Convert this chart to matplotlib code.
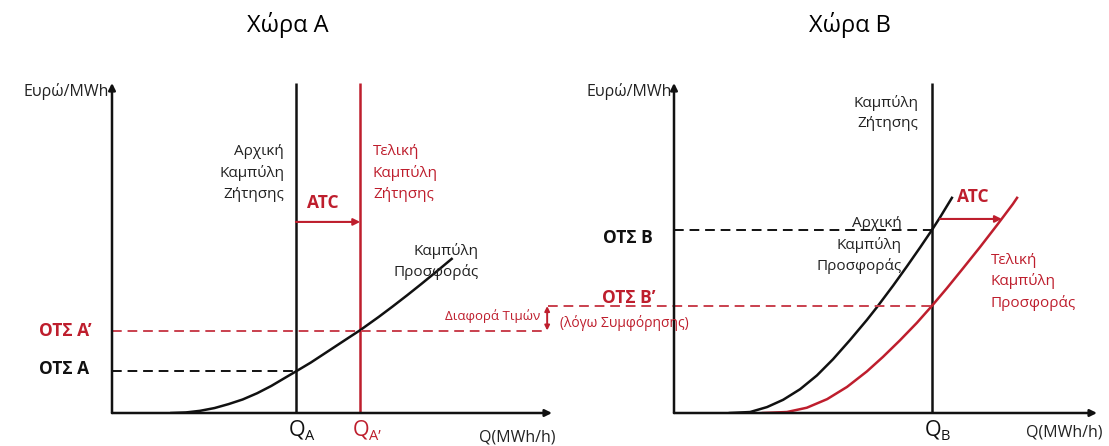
import matplotlib
matplotlib.use("Agg")
import matplotlib.pyplot as plt

plt.rcParams['font.family'] = ['Open Sans', 'DejaVu Sans']

# -----------------------------
# Data (schematic units, 0..100 on both axes)
# -----------------------------
# Country A
QA = 41.8
QA_PRIME = 56.4
OTS_A = 12.8
OTS_A_PRIME = 25.0
supply_a_x = [13.5, 16.8, 20.0, 23.3, 26.5, 29.7, 33.0, 36.2, 39.5, 41.8,
              45.2, 49.2, 53.3, 56.4, 60.6, 63.8, 67.1, 70.3, 73.6, 77.2]
supply_a_y = [0.0, 0.17, 0.66, 1.5, 2.7, 4.1, 6.0, 8.2, 10.8, 12.6,
              15.3, 18.8, 22.4, 25.1, 29.1, 32.3, 35.7, 39.1, 42.7, 46.7]
ATC_Y_A = 57.9

# Country B
QB = 61.0
OTS_B = 55.5
OTS_B_PRIME = 32.4
supply_b_x = [13.2, 18.0, 22.0, 25.8, 29.8, 33.8, 37.6, 41.6, 45.6, 48.0,
              51.8, 55.1, 58.2, 61.0, 62.9, 65.7]
supply_b_y = [0.0, 0.3, 1.8, 4.0, 7.2, 11.4, 16.3, 22.1, 28.2, 32.1,
              38.6, 44.5, 50.2, 55.5, 59.3, 65.2]
supply_b_new_x = [21.0, 26.7, 31.4, 36.2, 40.9, 45.6, 49.4, 53.4, 57.4, 61.0,
                  64.5, 68.3, 72.3, 76.4, 80.1, 81.1]
supply_b_new_y = [0.0, 0.3, 1.6, 4.2, 7.9, 12.6, 17.0, 22.0, 27.3, 32.5,
                  37.8, 43.8, 50.2, 57.0, 63.3, 65.2]
ATC_Y_B = 58.8
ATC_B_START = 62.9
ATC_B_END = 77.5

RED = '#BE1E2D'
RED_DASH = '#C9404E'
BLACK = '#111111'
TEXT = '#222222'
DASH = (0, (5, 3))

W, H = 1109, 446
fig = plt.figure(figsize=(W / 100, H / 100), dpi=100)


def axes_box(x0, y_bottom, x1, y_top):
    return [x0 / W, (H - y_bottom) / H, (x1 - x0) / W, (y_bottom - y_top) / H]


def draw_axes(ax):
    ax.set_xlim(0, 100)
    ax.set_ylim(0, 100)
    ax.axis('off')
    arrow = dict(arrowstyle='-|>', color=BLACK, lw=1.8, mutation_scale=10,
                 shrinkA=0, shrinkB=0)
    ax.annotate('', xy=(0, 100), xytext=(0, 0), arrowprops=arrow,
                annotation_clip=False)
    ax.annotate('', xy=(100, 0), xytext=(0, 0), arrowprops=arrow,
                annotation_clip=False)
    ax.text(-0.6, 97.5, 'Ευρώ/MWh', ha='right', va='center', fontsize=11.5,
            color=TEXT)


def q_label(ax, x, sub, color):
    ax.annotate('Q', xy=(x, 0), xytext=(1, -17), textcoords='offset pixels',
                ha='center', va='center', fontsize=15.5, color=color,
                annotation_clip=False)
    ax.annotate(sub, xy=(x, 0), xytext=(9, -23), textcoords='offset pixels',
                ha='left', va='center', fontsize=10.5, color=color,
                annotation_clip=False)


# -----------------------------
# Country A
# -----------------------------
ax1 = fig.add_axes(axes_box(112, 413, 552, 83))
draw_axes(ax1)
ax1.plot([QA, QA], [0, 100], color=BLACK, lw=1.8, solid_capstyle='butt')
ax1.plot([QA_PRIME, QA_PRIME], [0, 100], color=RED, lw=1.8, solid_capstyle='butt')
ax1.plot(supply_a_x, supply_a_y, color=BLACK, lw=1.8)
ax1.plot([0, QA], [OTS_A, OTS_A], color=BLACK, lw=1.4, ls=DASH)
ax1.plot([0, 98.4], [OTS_A_PRIME, OTS_A_PRIME], color=RED_DASH, lw=1.4,
         ls=DASH, clip_on=False)
ax1.annotate('', xy=(QA_PRIME, ATC_Y_A), xytext=(QA, ATC_Y_A),
             arrowprops=dict(arrowstyle='-|>', color=RED, lw=1.5,
                             mutation_scale=10, shrinkA=0, shrinkB=0))
ax1.text(48, 63.6, 'ATC', ha='center', va='center', fontsize=12.5,
         fontweight='bold', color=RED)
ax1.text(39.1, 72.7, 'Αρχική\nΚαμπύλη\nΖήτησης', ha='right', va='center',
         multialignment='right', fontsize=11, linespacing=1.55, color=TEXT)
ax1.text(59.3, 72.7, 'Τελική\nΚαμπύλη\nΖήτησης', ha='left', va='center',
         multialignment='left', fontsize=11, linespacing=1.55, color=RED)
ax1.text(83.4, 45.9, 'Καμπύλη\nΠροσφοράς', ha='right', va='center',
         multialignment='right', fontsize=11, linespacing=1.45, color=TEXT)
ax1.text(-16.6, OTS_A_PRIME, 'ΟΤΣ Α’', ha='left', va='center', fontsize=12.5,
         fontweight='bold', color=RED)
ax1.text(-16.6, OTS_A + 0.4, 'ΟΤΣ Α', ha='left', va='center', fontsize=12.5,
         fontweight='bold', color=BLACK)
ax1.text(100.9, -7.3, 'Q(MWh/h)', ha='right', va='center', fontsize=11.5,
         color=TEXT)
q_label(ax1, QA, 'Α', BLACK)
q_label(ax1, QA_PRIME, 'Α’', RED)

# price difference between the two areas
ax1.annotate('', xy=(98.9, OTS_B_PRIME), xytext=(98.9, OTS_A_PRIME),
             arrowprops=dict(arrowstyle='<|-|>', color=RED, lw=1.4,
                             mutation_scale=7, shrinkA=0, shrinkB=0),
             annotation_clip=False)
ax1.text(97.3, 29.3, 'Διαφορά Τιμών', ha='right', va='center', fontsize=9.5,
         color=RED)
fig.text(288 / W, 1 - 25 / H, 'Χώρα Α', ha='center', va='center', fontsize=17)

# -----------------------------
# Country B
# -----------------------------
ax2 = fig.add_axes(axes_box(674, 413, 1097, 83))
draw_axes(ax2)
ax2.plot([QB, QB], [0, 100], color=BLACK, lw=1.8, solid_capstyle='butt')
ax2.plot(supply_b_x, supply_b_y, color=BLACK, lw=1.8)
ax2.plot(supply_b_new_x, supply_b_new_y, color=RED, lw=1.8)
ax2.plot([0, QB], [OTS_B, OTS_B], color=BLACK, lw=1.4, ls=DASH)
ax2.plot([-29.8, QB], [OTS_B_PRIME, OTS_B_PRIME], color=RED_DASH, lw=1.4,
         ls=DASH, clip_on=False)
ax2.annotate('', xy=(ATC_B_END, ATC_Y_B), xytext=(ATC_B_START, ATC_Y_B),
             arrowprops=dict(arrowstyle='-|>', color=RED, lw=1.5,
                             mutation_scale=10, shrinkA=0, shrinkB=0))
ax2.text(70.7, 65.5, 'ATC', ha='center', va='center', fontsize=12.5,
         fontweight='bold', color=RED)
ax2.text(57.7, 90.8, 'Καμπύλη\nΖήτησης', ha='right', va='center',
         multialignment='right', fontsize=11, linespacing=1.45, color=TEXT)
ax2.text(53.9, 50.9, 'Αρχική\nΚαμπύλη\nΠροσφοράς', ha='right', va='center',
         multialignment='right', fontsize=11, linespacing=1.45, color=TEXT)
ax2.text(74.9, 39.7, 'Τελική\nΚαμπύλη\nΠροσφοράς', ha='left', va='center',
         multialignment='left', fontsize=11, linespacing=1.45, color=RED)
ax2.text(-16.8, 53.0, 'ΟΤΣ Β', ha='left', va='center', fontsize=12.5,
         fontweight='bold', color=BLACK)
ax2.text(-17.0, 34.8, 'ΟΤΣ Β’', ha='left', va='center', fontsize=12.5,
         fontweight='bold', color=RED)
ax2.text(-27.0, 27.3, '(λόγω Συμφόρησης)', ha='left', va='center',
         fontsize=10, color=RED)
ax2.text(101.2, -5.8, 'Q(MWh/h)', ha='right', va='center', fontsize=11.5,
         color=TEXT)
q_label(ax2, QB, 'Β', BLACK)
fig.text(850 / W, 1 - 25 / H, 'Χώρα Β', ha='center', va='center', fontsize=17)

fig.savefig('out.png', dpi=100)
